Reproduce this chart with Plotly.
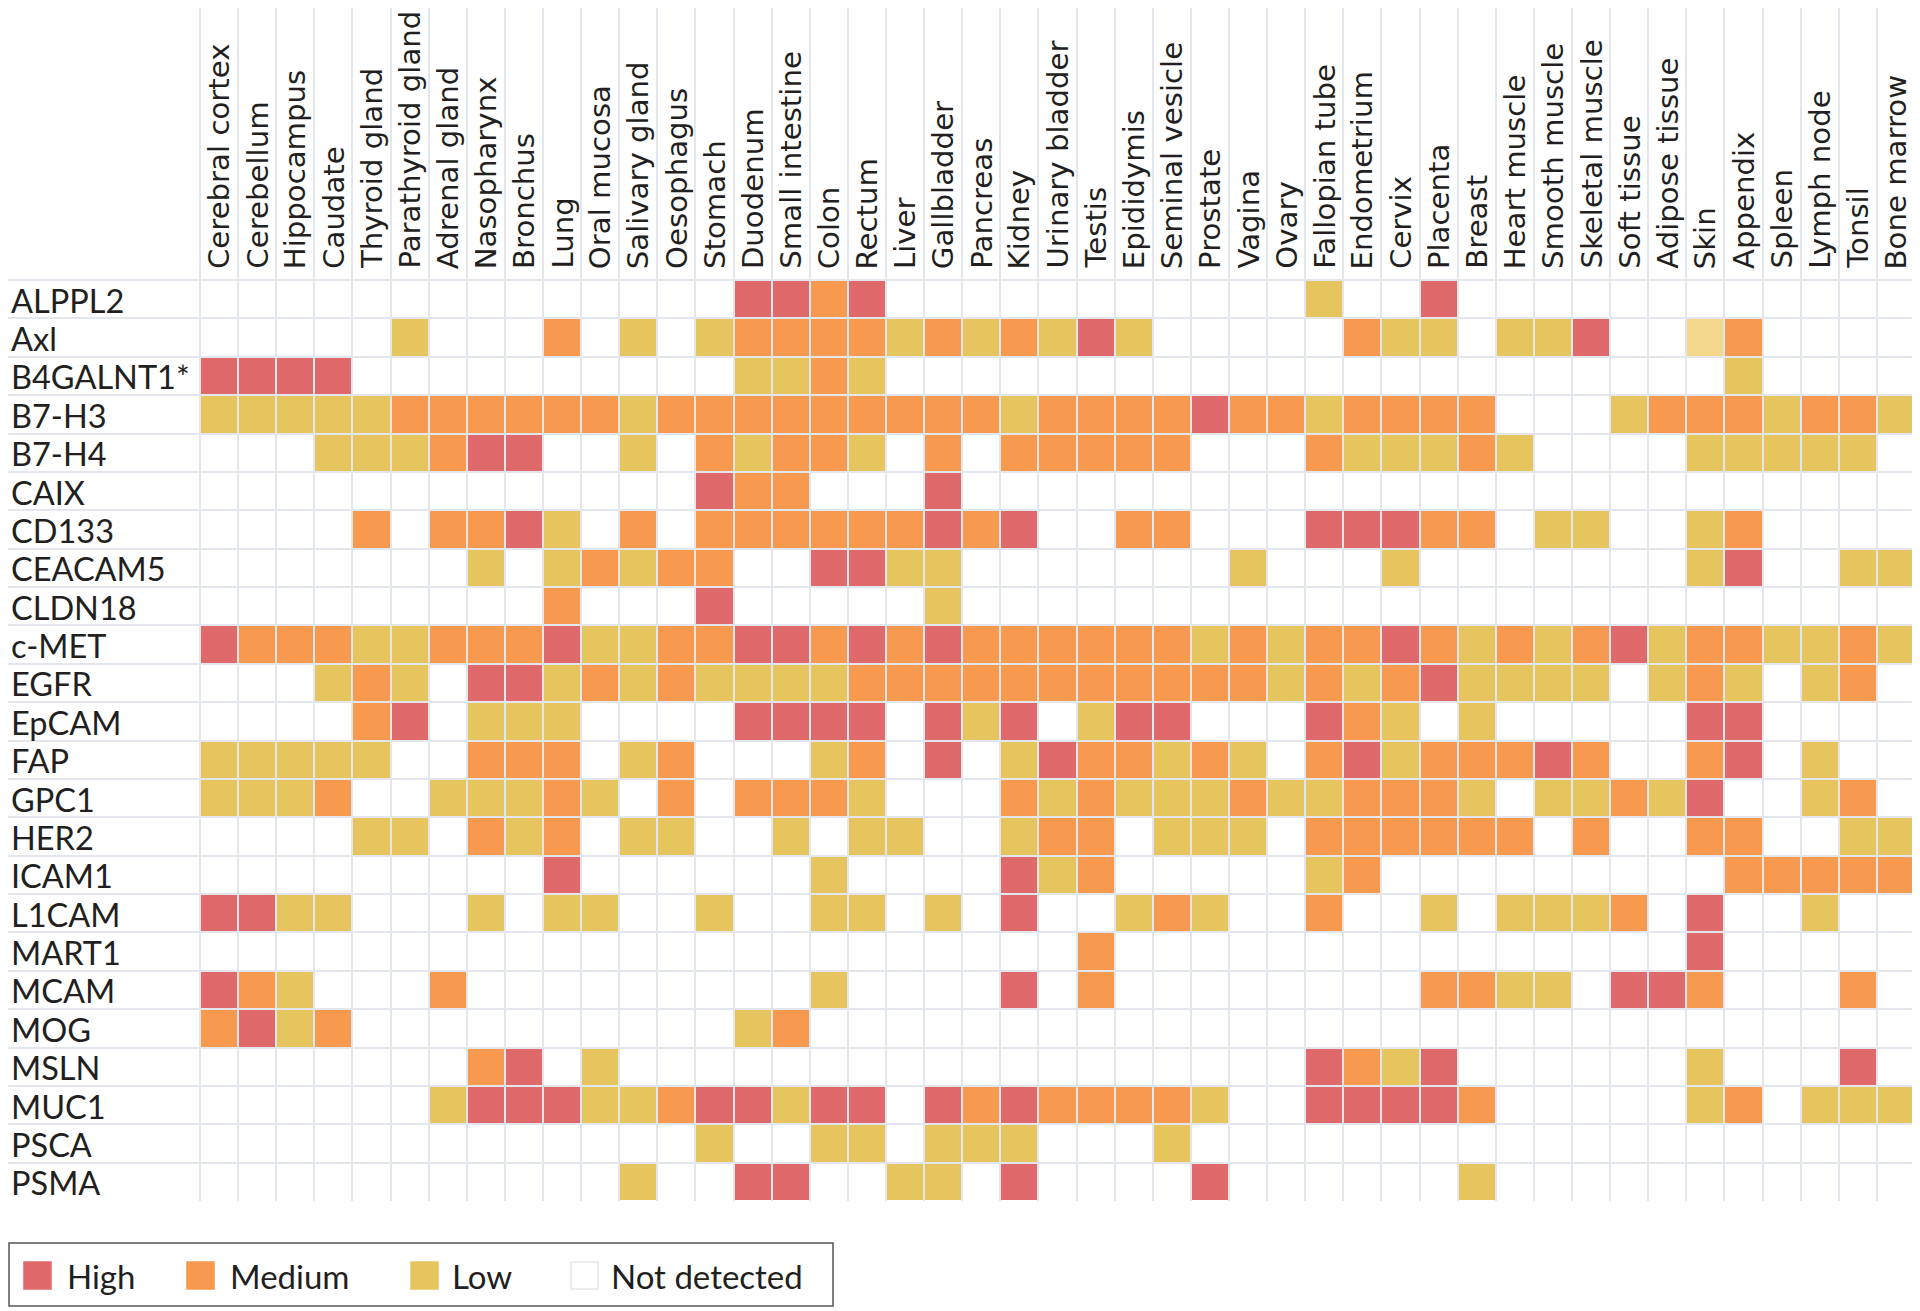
import plotly.graph_objects as go

# ---------------- data ----------------
tissues = [
    "Cerebral cortex", "Cerebellum", "Hippocampus", "Caudate", "Thyroid gland",
    "Parathyroid gland", "Adrenal gland", "Nasopharynx", "Bronchus", "Lung",
    "Oral mucosa", "Salivary gland", "Oesophagus", "Stomach", "Duodenum",
    "Small intestine", "Colon", "Rectum", "Liver", "Gallbladder",
    "Pancreas", "Kidney", "Urinary bladder", "Testis", "Epididymis",
    "Seminal vesicle", "Prostate", "Vagina", "Ovary", "Fallopian tube",
    "Endometrium", "Cervix", "Placenta", "Breast", "Heart muscle",
    "Smooth muscle", "Skeletal muscle", "Soft tissue", "Adipose tissue", "Skin",
    "Appendix", "Spleen", "Lymph node", "Tonsil", "Bone marrow",
]

markers = [
    "ALPPL2", "Axl", "B4GALNT1*", "B7-H3", "B7-H4", "CAIX", "CD133", "CEACAM5",
    "CLDN18", "c-MET", "EGFR", "EpCAM", "FAP", "GPC1", "HER2", "ICAM1",
    "L1CAM", "MART1", "MCAM", "MOG", "MSLN", "MUC1", "PSCA", "PSMA",
]

# expression level per tissue (45 columns, grouped by 5):
# 0 = not detected, 1 = low, 2 = medium, 3 = high, f = low (pale shade in source)
expression_rows = [
    "00000 00000 00003 32300 00000 00001 00300 00000 00000",  # ALPPL2
    "00000 10002 01012 22212 12131 00000 21101 1300f 20000",  # Axl
    "33330 00000 00001 12100 00000 00000 00000 00000 10000",  # B4GALNT1*
    "11111 22222 21222 22222 21222 23221 22220 00122 21221",  # B7-H3
    "00011 12330 01021 22102 02222 20002 11121 00001 11110",  # B7-H4
    "00000 00000 00032 20003 00000 00000 00000 00000 00000",  # CAIX
    "00002 02231 02022 22223 23002 20003 33220 11001 20000",  # CD133
    "00000 00101 21220 03311 00000 00100 01000 00001 30011",  # CEACAM5
    "00000 00002 00030 00001 00000 00000 00000 00000 00000",  # CLDN18
    "32221 12223 11223 32323 22222 21212 23212 12312 21121",  # c-MET
    "00012 10331 21211 11222 22222 22212 12311 11012 10120",  # EGFR
    "00002 30111 00003 33303 13013 30003 21010 00003 30000",  # EpCAM
    "11111 00222 01200 01203 01322 12102 31222 32002 30100",  # FAP
    "11120 01112 10202 22100 02121 11211 22210 11213 00120",  # GPC1
    "00001 10212 01100 10110 01220 11102 22222 02002 20011",  # HER2
    "00000 00003 00000 01000 03120 00001 20000 00000 22222",  # ICAM1
    "33110 00101 10010 01101 03001 21002 00101 11203 00100",  # L1CAM
    "00000 00000 00000 00000 00020 00000 00000 00003 00000",  # MART1
    "32100 02000 00000 01000 03020 00000 00221 10332 00020",  # MCAM
    "23120 00000 00001 20000 00000 00000 00000 00000 00000",  # MOG
    "00000 00230 10000 00000 00000 00003 21300 00001 00030",  # MSLN
    "00000 01333 11233 13303 23222 21003 33320 00001 20111",  # MUC1
    "00000 00000 00010 01101 11000 10000 00000 00000 00000",  # PSCA
    "00000 00000 01003 30011 03000 03000 00010 00000 00000",  # PSMA
]

level_names = ["High", "Medium", "Low", "Not detected"]
level_values = [3, 2, 1, 0]
level_colors = ["#e06a6b", "#f7994e", "#e6c55e", "#ffffff"]
pale_low_color = "#f3d88c"

# ---------------- build matrix ----------------
code = {"0": 0, "1": 1, "2": 2, "3": 3, "f": 0.5}
z = [[code[c] for c in row.replace(" ", "")] for row in expression_rows]

zmax = 3.0
col_for = dict(zip(level_values, level_colors))
colorscale = [
    [0.0, col_for[0]], [0.25 / zmax, col_for[0]],
    [0.25 / zmax, pale_low_color], [0.75 / zmax, pale_low_color],
    [0.75 / zmax, col_for[1]], [1.5 / zmax, col_for[1]],
    [1.5 / zmax, col_for[2]], [2.5 / zmax, col_for[2]],
    [2.5 / zmax, col_for[3]], [1.0, col_for[3]],
]

# ---------------- layout geometry (page pixels, body margin offset) ----------------
OFF = 8                      # default page margin around the figure div
W, H = 1920 - OFF, 1311 - OFF


def fx(px):                  # page x -> figure x
    return max(px - OFF, 0)


def fy(py):                  # page y -> figure y
    return max(py - OFF, 0)


plot_l, plot_r = fx(7), fx(1915)      # plot area horizontal extent
plot_t, plot_b = fy(0), fy(1201)      # plot area vertical extent
grid_l, grid_t = fx(200), fy(280)     # top-left of the cell grid
n_cols, n_rows = len(tissues), len(markers)
cw = (plot_r - grid_l) / n_cols
rh = (plot_b - grid_t) / n_rows
x_lo = -0.5 - (grid_l - plot_l) / cw
y_top = -0.5 - (grid_t - plot_t) / rh

grid_color = "#e3e6ec"
text_color = "#231f20"

fig = go.Figure()
fig.add_trace(go.Heatmap(
    z=z, x=list(range(n_cols)), y=list(range(n_rows)),
    zmin=0, zmax=zmax, colorscale=colorscale, showscale=False,
    xgap=2, ygap=2, hoverinfo="skip",
))

annotations = []
for i, t in enumerate(tissues):
    annotations.append(dict(
        x=i, y=-0.5 - 10 / rh, xref="x", yref="y", text=t, textangle=-90,
        showarrow=False, xanchor="center", yanchor="bottom", borderpad=0,
        font=dict(family="DejaVu Sans", size=29.2, color=text_color),
    ))
for j, m in enumerate(markers):
    annotations.append(dict(
        x=x_lo + 1 / cw, y=j + 1 / rh, xref="x", yref="y", text=m,
        showarrow=False, xanchor="left", yanchor="middle",
        font=dict(family="Lato", size=32.5, color=text_color),
    ))


# ---------------- legend (drawn manually) ----------------
def px_x(px):
    return (fx(px) - plot_l) / (plot_r - plot_l)


def px_y(py):
    return (plot_b - fy(py)) / (plot_b - plot_t)


shapes = [dict(type="rect", xref="paper", yref="paper",
               x0=px_x(9), x1=px_x(833), y0=px_y(1306), y1=px_y(1243),
               line=dict(color="#555555", width=1.5), fillcolor="rgba(0,0,0,0)")]
legend_sq_x = [24, 187, 411, 571]
legend_txt_x = [65, 228, 450, 609]
for name, colr, sx, tx in zip(level_names, level_colors, legend_sq_x, legend_txt_x):
    shapes.append(dict(type="rect", xref="paper", yref="paper",
                       x0=px_x(sx), x1=px_x(sx + 27), y0=px_y(1289), y1=px_y(1262),
                       fillcolor=colr,
                       line=dict(color=grid_color if colr == "#ffffff" else colr, width=1.5)))
    annotations.append(dict(
        x=px_x(tx), y=px_y(1276), xref="paper", yref="paper", text=name,
        showarrow=False, xanchor="left", yanchor="middle",
        font=dict(family="Lato", size=33, color=text_color),
    ))

fig.update_layout(
    width=W, height=H,
    margin=dict(l=plot_l, r=W - plot_r, t=plot_t, b=H - plot_b, pad=0),
    paper_bgcolor="white", plot_bgcolor="white",
    showlegend=False,
    annotations=annotations, shapes=shapes,
    xaxis=dict(range=[x_lo, n_cols - 0.5], tickmode="array",
               tickvals=[k - 0.5 for k in range(n_cols + 1)],
               showticklabels=False, ticks="", showgrid=True,
               gridcolor=grid_color, gridwidth=1.5, zeroline=False,
               showline=False, fixedrange=True),
    yaxis=dict(range=[n_rows - 0.5, y_top], tickmode="array",
               tickvals=[k - 0.5 for k in range(n_rows + 1)],
               showticklabels=False, ticks="", showgrid=True,
               gridcolor=grid_color, gridwidth=1.5, zeroline=False,
               showline=False, fixedrange=True),
)

fig.write_html("out.html")
